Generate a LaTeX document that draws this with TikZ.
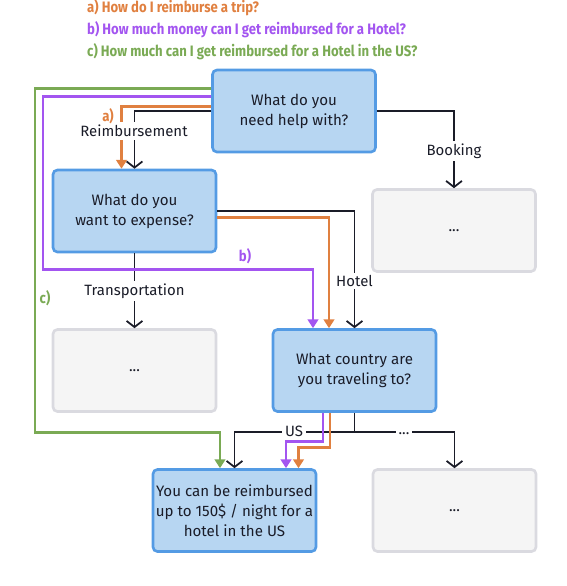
\documentclass[tikz,border=0pt]{standalone}
\usepackage{fontspec}
\setmainfont{Fira Sans}
\newfontfamily\tagfont[FakeStretch=0.87]{Fira Sans}
\usetikzlibrary{arrows.meta,calc}

\definecolor{ink}{RGB}{26,28,40}
\definecolor{oracol}{RGB}{224,128,64}
\definecolor{purcol}{RGB}{163,85,240}
\definecolor{grncol}{RGB}{122,170,84}
\definecolor{qfill}{RGB}{183,214,242}
\definecolor{qline}{RGB}{84,155,228}
\definecolor{efill}{RGB}{245,245,245}
\definecolor{eline}{RGB}{218,218,224}

\tikzset{
  qbox/.style={draw=qline, fill=qfill, line width=1.5pt, rounded corners=2.5pt,
    minimum width=3.26cm, minimum height=1.64cm, inner sep=0pt, align=center,
    text=ink, font=\fontsize{8.6}{11.4}\selectfont},
  emptybox/.style={qbox, draw=eline, fill=efill},
  link/.style={draw=ink, line width=1pt, -{Straight Barb[length=3.5pt,width=9pt]}},
  cpath/.style={line width=1.7pt, -{Triangle[length=5pt,width=6pt]}},
  lbl/.style={fill=white, inner sep=1.5pt, text=ink, font=\fontsize{8.5}{11}\selectfont},
  tag/.style={font=\tagfont\bfseries\fontsize{8.6}{11}\selectfont},
}

\begin{document}
\begin{tikzpicture}[x=0.02cm,y=-0.02cm]
  \useasboundingbox (0,0) rectangle (566,586);

  % The three example questions
  \node[tag, text=oracol, anchor=west] (qa) at (81,8) {a) How do I reimburse a trip?};
  \node[tag, text=purcol, anchor=west] (qb) at (81,30) {b) How much money can I get reimbursed for a Hotel?};
  \node[tag, text=grncol, anchor=west] (qc) at (81,52) {c) How much can I get reimbursed for a Hotel in the US?};

  % Tree boxes
  \node[qbox] (help) at (294,111) {What do you\\need help with?};
  \node[qbox] (expense) at (134.5,211) {What do you\\want to expense?};
  \node[emptybox] (booking) at (454,230.5) {...};
  \node[emptybox] (transport) at (134.5,370.5) {...};
  \node[qbox] (country) at (354.5,370.5) {What country are\\you traveling to?};
  \node[qbox] (answer) at (234.5,510.5) {You can be reimbursed\\up to 150\$ / night for a\\hotel in the US};
  \node[emptybox] (other) at (454.5,510.5) {...};

  % Branches of the tree
  \draw[link] (help.west) -| (expense.north);
  \draw[link] (help.east) -| (booking.north);
  \draw[link] (expense.south) -- (transport.north);
  \draw[link] (expense.east) -| (country.north);
  \coordinate (fork) at ($(country.south)+(0,19)$);
  \draw[ink, line width=1pt] (country.south) -- (fork);
  \draw[link] (fork) -| (answer.north);
  \draw[link] (fork) -| (other.north);

  % Path a)
  \draw[cpath, oracol] ($(help.west)+(0,-5)$) -| ($(expense.north)+(-13,0)$);
  \draw[cpath, oracol] ($(expense.east)+(0,6)$) -| ($(country.north)+(-25.5,0)$);
  \draw[cpath, oracol] ($(country.south)+(-24.5,0)$) |- ($(answer.north)+(64,-21)$)
    -- ($(answer.north)+(64,0)$);
  % Path b)
  \coordinate (bturn) at (43,269);
  \draw[cpath, purcol] ($(help.west)+(0,-15)$) -| (bturn) -| ($(country.north)+(-41.5,0)$);
  \draw[cpath, purcol] ($(country.south)+(-31.5,0)$) |- ($(answer.north)+(51.5,-27)$)
    -- ($(answer.north)+(51.5,0)$);
  % Path c)
  \coordinate (cturn) at (35,432);
  \draw[cpath, grncol] ($(help.west)+(0,-23)$) -| (cturn) -| ($(answer.north)+(-14.5,0)$);

  % Branch labels
  \node[lbl] (reimb) at (134,131) {Reimbursement};
  \node[lbl] (book) at (454,151) {Booking};
  \node[lbl] (trans) at (134.5,291) {Transportation};
  \node[lbl] (hotel) at (354.5,281) {Hotel};
  \node[lbl] (us) at (294,431) {US};
  \node[lbl] (dots) at (404,434) {...};

  % Path tags
  \node[tag, text=oracol] (taga) at (108,116) {a)};
  \node[tag, text=purcol] (tagb) at (245,256) {b)};
  \node[tag, text=grncol] (tagc) at (45,298) {c)};
\end{tikzpicture}
\end{document}
